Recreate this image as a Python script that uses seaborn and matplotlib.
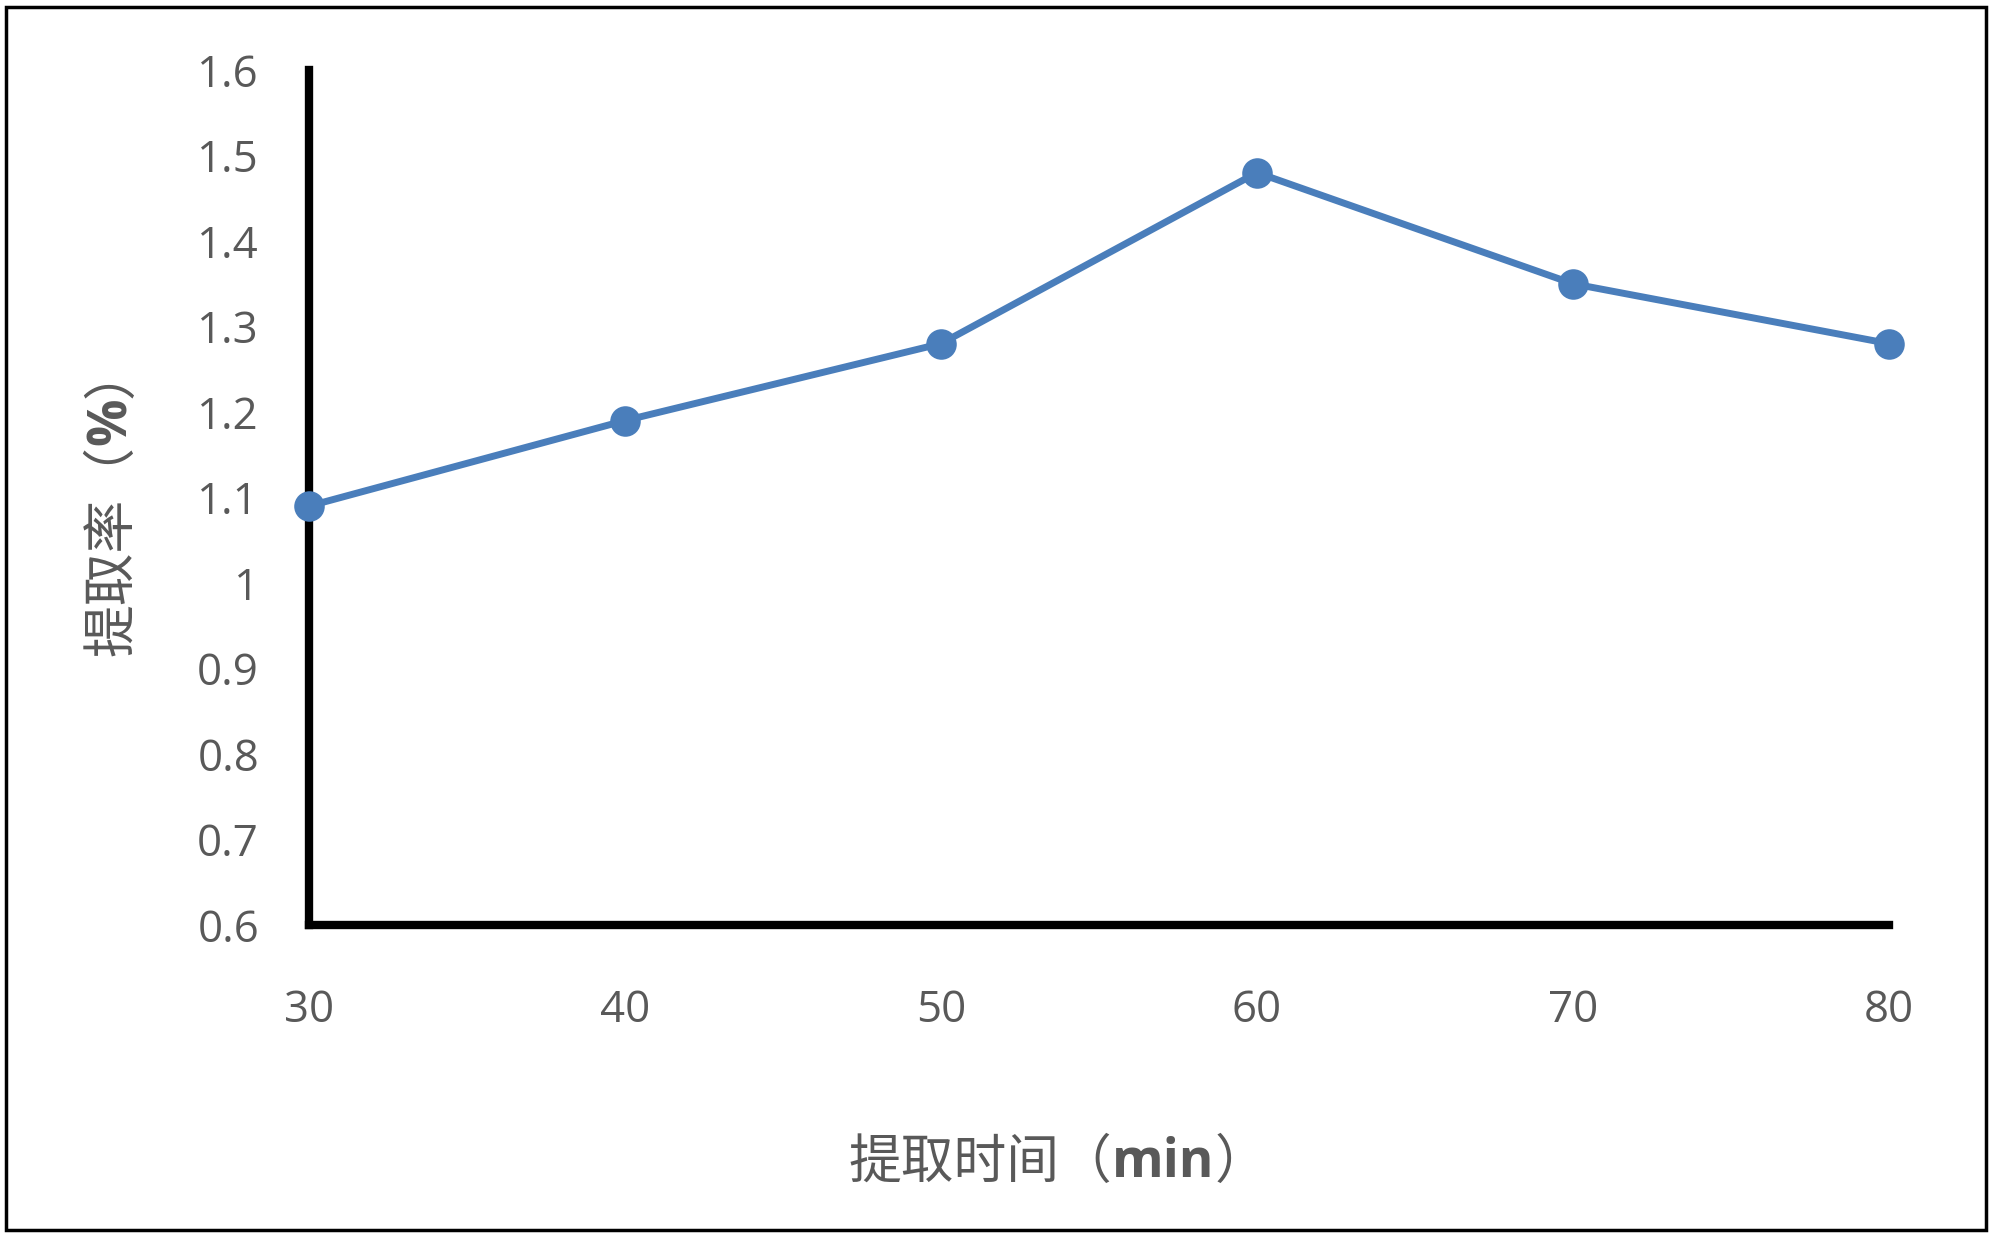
import matplotlib
matplotlib.use("Agg")
import matplotlib.pyplot as plt
import seaborn as sns
import pandas as pd
from matplotlib.patches import Rectangle
from matplotlib.ticker import FuncFormatter

# 数据
times = [30, 40, 50, 60, 70, 80]
rates = [1.09, 1.19, 1.28, 1.48, 1.35, 1.28]
y_ticks = [0.6, 0.7, 0.8, 0.9, 1.0, 1.1, 1.2, 1.3, 1.4, 1.5, 1.6]

df = pd.DataFrame({"time": times, "rate": rates})

sns.set_theme(style="white")
plt.rcParams['font.family'] = ['Open Sans', 'Noto Sans CJK SC', 'DejaVu Sans']

fig = plt.figure(figsize=(20, 12.41), dpi=100)
ax = fig.add_axes([0.1545, 0.2546, 0.79, 0.689])

sns.lineplot(data=df, x="time", y="rate", ax=ax, color="#4A7EBB",
             linewidth=5, marker="o", markersize=22, markeredgewidth=0,
             clip_on=False, zorder=5)

ax.set_xlim(30, 80)
ax.set_ylim(0.6, 1.6)
ax.set_xticks(times)
ax.set_yticks(y_ticks)
ax.yaxis.set_major_formatter(FuncFormatter(lambda v, p: f"{v:g}"))
ax.tick_params(axis="both", length=0, labelsize=31.5, labelcolor="#595959")
ax.tick_params(axis="y", pad=36)
ax.tick_params(axis="x", pad=46)

for s in ["top", "right"]:
    ax.spines[s].set_visible(False)
for s in ["left", "bottom"]:
    ax.spines[s].set_color("black")
    ax.spines[s].set_linewidth(6)

ax.set_xlabel("")
ax.set_ylabel("")

cjk = ['Noto Sans CJK SC', 'DejaVu Sans']
lab = dict(fontsize=38, color="#595959")

# x 轴标题：提取时间（min）
t1 = fig.text(0.424, 0.063, "提取时间（", ha="left", va="center", family=cjk, **lab)
t2 = ax.annotate("min", xy=(1, 0.5), xycoords=t1, ha="left", va="center",
                 fontweight="bold", family=['Open Sans', 'DejaVu Sans'], **lab)
ax.annotate("）", xy=(1, 0.5), xycoords=t2, ha="left", va="center", family=cjk, **lab)

# y 轴标题：提取率（%）
s1 = fig.text(0.056, 0.471, "提取率（", ha="center", va="bottom", rotation=90,
              family=cjk, **lab)
s2 = ax.annotate("%", xy=(0.5, 1), xycoords=s1, ha="center", va="bottom", rotation=90,
                 fontweight="bold", family=['Open Sans', 'DejaVu Sans'], **lab)
ax.annotate("）", xy=(0.5, 1), xycoords=s2, ha="center", va="bottom", rotation=90,
            family=cjk, **lab)

# 外框
fig.patches.append(Rectangle((0.003, 0.009), 0.99, 0.985, transform=fig.transFigure,
                             fill=False, edgecolor="black", linewidth=2.5))

fig.savefig("out.png", dpi=100)
